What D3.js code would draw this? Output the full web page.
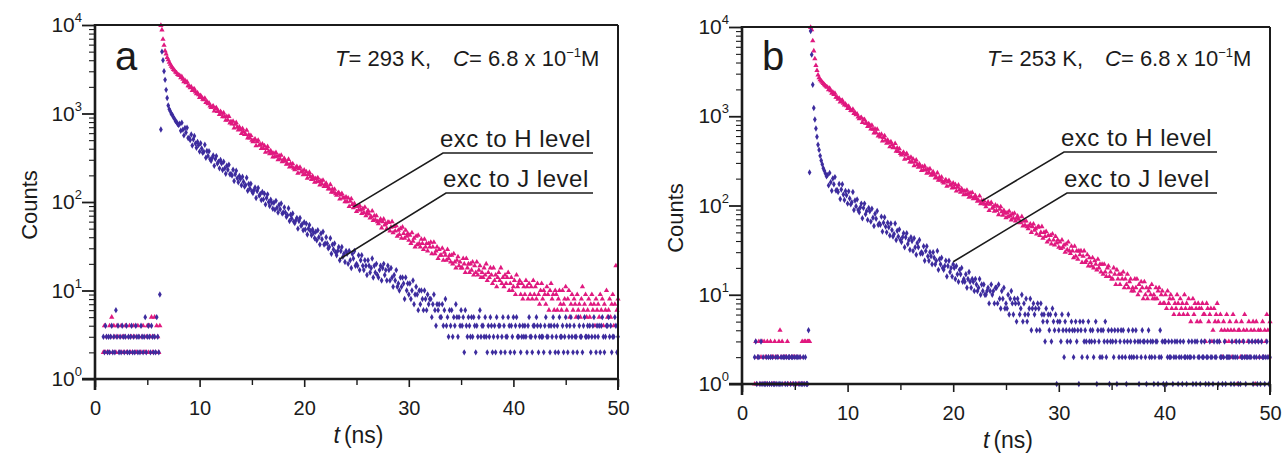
<!DOCTYPE html>
<html>
<head>
<meta charset="utf-8">
<script src="https://cdn.jsdelivr.net/npm/d3@7"></script>
<style>
  body { margin: 0; background: #fff; }
  svg { display: block; font-family: "Liberation Sans", Arial, sans-serif; }
</style>
</head>
<body>
<svg id="chart" width="1285" height="458"></svg>
<script>
// time bins (ns), 0.1 ns apart, shared by every decay curve
const timeNs = [
  0.8,0.9,
  1.0,1.1,1.2,1.3,1.4,1.5,1.6,1.7,1.8,1.9, 2.0,2.1,2.2,2.3,2.4,2.5,2.6,2.7,2.8,2.9,
  3.0,3.1,3.2,3.3,3.4,3.5,3.6,3.7,3.8,3.9, 4.0,4.1,4.2,4.3,4.4,4.5,4.6,4.7,4.8,4.9,
  5.0,5.1,5.2,5.3,5.4,5.5,5.6,5.7,5.8,5.9, 6.0,6.1,6.2,6.3,6.4,6.5,6.6,6.7,6.8,6.9,
  7.0,7.1,7.2,7.3,7.4,7.5,7.6,7.7,7.8,7.9, 8.0,8.1,8.2,8.3,8.4,8.5,8.6,8.7,8.8,8.9,
  9.0,9.1,9.2,9.3,9.4,9.5,9.6,9.7,9.8,9.9, 10.0,10.1,10.2,10.3,10.4,10.5,10.6,10.7,10.8,10.9,
  11.0,11.1,11.2,11.3,11.4,11.5,11.6,11.7,11.8,11.9, 12.0,12.1,12.2,12.3,12.4,12.5,12.6,12.7,12.8,12.9,
  13.0,13.1,13.2,13.3,13.4,13.5,13.6,13.7,13.8,13.9, 14.0,14.1,14.2,14.3,14.4,14.5,14.6,14.7,14.8,14.9,
  15.0,15.1,15.2,15.3,15.4,15.5,15.6,15.7,15.8,15.9, 16.0,16.1,16.2,16.3,16.4,16.5,16.6,16.7,16.8,16.9,
  17.0,17.1,17.2,17.3,17.4,17.5,17.6,17.7,17.8,17.9, 18.0,18.1,18.2,18.3,18.4,18.5,18.6,18.7,18.8,18.9,
  19.0,19.1,19.2,19.3,19.4,19.5,19.6,19.7,19.8,19.9, 20.0,20.1,20.2,20.3,20.4,20.5,20.6,20.7,20.8,20.9,
  21.0,21.1,21.2,21.3,21.4,21.5,21.6,21.7,21.8,21.9, 22.0,22.1,22.2,22.3,22.4,22.5,22.6,22.7,22.8,22.9,
  23.0,23.1,23.2,23.3,23.4,23.5,23.6,23.7,23.8,23.9, 24.0,24.1,24.2,24.3,24.4,24.5,24.6,24.7,24.8,24.9,
  25.0,25.1,25.2,25.3,25.4,25.5,25.6,25.7,25.8,25.9, 26.0,26.1,26.2,26.3,26.4,26.5,26.6,26.7,26.8,26.9,
  27.0,27.1,27.2,27.3,27.4,27.5,27.6,27.7,27.8,27.9, 28.0,28.1,28.2,28.3,28.4,28.5,28.6,28.7,28.8,28.9,
  29.0,29.1,29.2,29.3,29.4,29.5,29.6,29.7,29.8,29.9, 30.0,30.1,30.2,30.3,30.4,30.5,30.6,30.7,30.8,30.9,
  31.0,31.1,31.2,31.3,31.4,31.5,31.6,31.7,31.8,31.9, 32.0,32.1,32.2,32.3,32.4,32.5,32.6,32.7,32.8,32.9,
  33.0,33.1,33.2,33.3,33.4,33.5,33.6,33.7,33.8,33.9, 34.0,34.1,34.2,34.3,34.4,34.5,34.6,34.7,34.8,34.9,
  35.0,35.1,35.2,35.3,35.4,35.5,35.6,35.7,35.8,35.9, 36.0,36.1,36.2,36.3,36.4,36.5,36.6,36.7,36.8,36.9,
  37.0,37.1,37.2,37.3,37.4,37.5,37.6,37.7,37.8,37.9, 38.0,38.1,38.2,38.3,38.4,38.5,38.6,38.7,38.8,38.9,
  39.0,39.1,39.2,39.3,39.4,39.5,39.6,39.7,39.8,39.9, 40.0,40.1,40.2,40.3,40.4,40.5,40.6,40.7,40.8,40.9,
  41.0,41.1,41.2,41.3,41.4,41.5,41.6,41.7,41.8,41.9, 42.0,42.1,42.2,42.3,42.4,42.5,42.6,42.7,42.8,42.9,
  43.0,43.1,43.2,43.3,43.4,43.5,43.6,43.7,43.8,43.9, 44.0,44.1,44.2,44.3,44.4,44.5,44.6,44.7,44.8,44.9,
  45.0,45.1,45.2,45.3,45.4,45.5,45.6,45.7,45.8,45.9, 46.0,46.1,46.2,46.3,46.4,46.5,46.6,46.7,46.8,46.9,
  47.0,47.1,47.2,47.3,47.4,47.5,47.6,47.7,47.8,47.9, 48.0,48.1,48.2,48.3,48.4,48.5,48.6,48.7,48.8,48.9,
  49.0,49.1,49.2,49.3,49.4,49.5,49.6,49.7,49.8,49.9, 50.0
];

// panel a, T = 293 K  (background 0.8-6.2, rise 6.3-8.0, decay 8.1-50.0)
const hCountsA = [
  2,4,2,3,2,2,4,3,5,2, 4,3,2,4,3,2,2,4,3,2, 3,4,2,2,3,4,2,3,2,4, 3,2,2,4,3,2,2,3,4,2, 2,3,4,2,4,3,5,2,3,5, 2,4,3,2,4,
  9900,8800,6900,5900,5100,4700,4300,4050,3800,3600,3420,3300,3150,3080,2950,2880,2760,2720,
  2690,2530,2610,2440,2290,2370,2220,2280,2060,2050, 1960,2000,1815,1875,1890,1755,1670,1710,1630,1520,
  1600,1525,1445,1435,1490,1330,1365,1290,1315,1220, 1170,1196,1213,1068,1140,1160,1055,1057,977,1050,
  1010,922,1016,921,839,926,846,927,783,812, 763,817,687,755,789,701,651,704,661,594,
  677,626,578,583,646,530,574,528,564,498, 479,500,515,432,480,498,437,445,402,452,
  403,432,365,402,422,375,350,380,358,323, 355,325,361,328,300,333,306,337,286,298,
  310,289,267,271,303,249,272,252,270,241, 232,243,252,212,237,247,218,223,203,229,
  205,220,186,205,216,193,180,196,185,167, 184,169,188,171,156,174,160,176,150,157,
  163,150,140,141,157,129,140,130,139,124, 119,125,128,108,120,125,111,112,101,114,
  101,111,89,102,109,94,86,96,89,78, 89,81,91,82,74,84,76,87,70,75,
  80,73,66,68,79,62,70,63,70,60, 57,61,64,51,60,64,55,57,50,59,
  59,47,52,60,45,53,47,54,41,48, 43,50,39,52,44,39,48,41,44,37,
  42,34,45,36,39,31,41,33,42,34, 31,38,34,29,38,31,34,28,34,31,
  35,26,31,35,26,28,31,23,29,25, 25,30,22,27,25,22,29,23,25,21,
  25,20,26,21,18,22,24,19,21,18, 18,23,20,16,23,18,20,16,20,17,
  21,15,19,16,21,15,17,19,14,16, 14,18,15,20,13,16,14,18,15,12,
  18,13,15,11,14,16,13,18,12,14, 11,15,12,14,16,10,12,14,10,11,
  13,9,15,11,12,13,9,12,8,11, 9,13,11,8,12,9,11,8,13,9,
  11,8,12,9,7,10,12,8,10,9, 7,11,9,6,10,12,8,9,6,10,
  9,6,8,10,7,6,10,7,8,11, 6,8,10,5,7,9,6,8,7,5,
  9,6,7,5,8,11,6,7,9,5, 6,8,5,7,9,6,7,4,8,6,
  7,5,9,6,8,4,7,6,10,5, 6,8,5,7,9,4,7,19,6,8
];
const jCountsA = [
  3,2,4,3,2,3,2,3,4,2, 3,2,6,3,4,2,3,2,4,3, 2,3,4,2,3,2,3,4,2,3, 2,4,3,2,3,2,4,3,2,3, 5,2,3,4,3,2,4,3,2,3, 2,5,3,2,9,
  660,5000,4000,3000,2400,1850,1500,1230,1120,1060,990,960,905,870,820,800,760,740,
  767,639,787,657,566,687,610,690,530,528, 503,579,434,512,558,458,409,478,439,371,
  461,403,359,370,444,316,376,332,374,305, 292,315,336,256,307,330,272,285,240,298,
  273,230,285,240,209,257,231,264,206,207, 199,231,173,206,225,186,167,197,182,155,
  193,169,150,156,188,134,160,142,161,132, 126,136,146,111,133,144,118,123,105,130,
  107,124,94,111,122,100,90,106,98,84, 98,82,103,86,76,93,83,96,74,76,
  87,76,68,71,85,61,72,65,74,60, 58,62,66,50,61,66,54,56,48,59,
  49,57,43,50,55,47,42,49,45,39, 46,37,48,40,33,44,38,46,33,34,
  40,34,30,31,39,26,33,29,34,27, 25,28,31,22,28,31,24,26,21,28,
  26,20,28,22,18,26,23,28,19,20, 19,25,17,22,25,19,17,22,19,15,
  22,19,16,18,23,14,19,16,20,15, 14,17,19,13,18,20,15,17,13,19,
  17,13,18,14,11,15,13,17,11,12, 10,14,11,14,12,8,14,10,12,9,
  12,8,10,13,7,9,11,9,6,10, 7,10,8,6,10,8,6,9,7,8,
  8,5,7,9,6,4,7,6,7,5, 5,7,4,6,8,4,5,3,6,4,
  6,3,5,4,7,5,3,5,4,6, 4,5,2,6,4,3,5,4,3,5,
  3,5,4,2,4,3,5,6,3,4, 4,3,5,3,2,4,3,5,4,2,
  3,4,2,5,3,4,4,2,3,5, 4,2,3,3,5,4,2,4,3,5,
  2,4,5,3,3,4,2,3,4,3, 4,3,2,4,5,3,3,2,4,4,
  3,5,4,2,3,4,3,3,2,4, 5,3,3,4,2,4,3,5,4,2,
  3,4,2,5,3,3,4,2,3,5, 4,2,3,4,5,3,2,4,3,3,
  2,5,4,3,3,2,4,5,3,3, 4,3,4,2,3,4,5,3,2,4,
  3,4,2,4,5,3,2,3,4,4, 5,3,4,2,3,3,5,4,2,3
];

// panel b, T = 253 K
const hCountsB = [
  null,null,null,null,1,3,1,2,3,1, 2,3,1,3,2,1,3,2,1,3, 2,1,2,3,1,2,2,3,4,2, 3,2,1,2,2,3,1,2,1,2, 1,2,2,1,2,1,1,2,1,3, 1,3,3,1,3,
  3,3,9900,9300,7000,5400,4400,3700,3250,2900,2700,2560,2480,2400,2330,2260,2200,2140,
  2111,1988,2057,1927,1810,1871,1756,1809,1630,1630, 1556,1592,1444,1493,1509,1403,1335,1369,1308,1223,
  1289,1224,1161,1152,1200,1071,1099,1040,1060,980, 938,956,968,850,906,920,834,834,769,824,
  790,720,793,717,651,718,654,715,602,623, 586,628,528,579,606,538,499,540,507,455,
  519,480,443,447,495,406,440,404,432,382, 367,383,394,331,368,381,336,342,308,347,
  308,332,279,308,323,288,269,291,275,247, 272,250,276,251,230,255,234,257,219,228,
  238,221,204,208,232,192,208,193,208,185, 179,187,194,164,183,191,169,173,157,178,
  159,172,145,160,169,150,141,154,145,132, 145,133,148,135,124,138,126,140,119,124,
  129,120,112,114,128,105,114,107,114,103, 97,104,109,88,103,108,93,97,86,101,
  88,98,79,91,97,85,78,88,82,73, 83,75,86,77,69,80,72,82,67,72,
  76,70,64,65,75,59,67,60,67,58, 55,59,62,50,58,62,53,55,48,57,
  58,46,50,58,43,50,45,51,39,46, 41,46,37,48,41,36,45,38,41,34,
  39,33,41,34,36,30,37,32,39,31, 29,35,31,26,35,27,31,25,31,28,
  31,23,27,31,23,24,28,21,26,23, 21,26,20,24,22,19,25,20,22,18,
  22,17,22,18,16,20,21,16,18,15, 15,20,17,13,19,15,17,13,17,15,
  18,12,15,13,17,12,14,15,11,12, 11,15,12,15,10,13,11,14,12,9,
  14,10,12,9,11,12,10,13,9,10, 9,12,9,11,12,8,10,11,8,8,
  10,7,11,8,9,10,7,9,6,8, 7,10,8,6,9,7,8,6,10,7,
  8,6,9,7,5,7,9,6,8,7, 5,8,7,5,7,8,6,6,3,8,
  7,5,6,7,3,4,7,5,6,8, 5,3,6,4,2,5,4,3,6,4,
  3,5,4,2,6,4,3,5,1,4, 4,2,5,3,4,6,2,4,3,5,
  2,4,3,5,4,1,5,3,4,2, 4,3,5,2,4,3,6,4,2,5
];
const jCountsB = [
  null,null,null,null,2,3,1,2,2,1, 3,1,2,1,1,2,1,2,1,2, 1,2,1,1,2,1,2,1,1,2, 1,2,2,1,2,1,2,2,1,2, 2,1,2,1,2,2,1,2,1,1, 2,1,2,1,1,
  4,235,9000,4900,2250,1240,920,730,590,480,420,360,320,290,262,245,228,212,
  219,168,232,182,146,201,173,208,147,149, 142,174,118,151,173,133,115,145,130,105,
  144,120,103,109,142,89,114,98,117,89, 84,95,105,72,94,105,80,87,69,94,
  86,66,92,73,59,81,71,87,61,63, 61,75,51,64,74,58,50,64,57,46,
  63,53,45,48,63,41,52,45,54,41, 39,44,49,34,44,49,37,41,32,44,
  40,31,43,34,28,38,34,41,29,30, 29,35,24,31,35,27,24,30,27,22,
  30,26,22,24,31,19,25,22,26,20, 19,21,24,16,21,24,18,20,16,22,
  20,15,21,17,14,19,17,20,14,15, 14,17,12,15,18,14,12,15,14,11,
  15,13,11,12,15,10,13,11,13,10, 10,11,12,8,11,13,10,11,8,12,
  12,8,13,9,7,11,9,12,7,8, 7,10,6,9,11,8,6,9,8,5,
  9,8,6,7,10,5,8,6,9,5, 6,7,9,4,7,8,6,7,4,8,
  7,4,8,6,5,6,3,7,5,6, 4,6,3,7,5,4,6,1,5,4,
  5,3,6,4,2,5,4,3,6,4, 3,5,4,2,4,5,3,4,1,5,
  4,2,5,3,4,3,2,5,3,4, 3,4,2,3,5,1,4,3,2,4,
  2,4,3,5,2,3,4,1,3,4, 3,2,4,3,1,4,2,3,4,2,
  4,3,2,1,3,4,2,3,2,4, 2,3,4,2,3,1,3,2,4,3,
  3,2,1,3,4,2,3,2,3,1, 2,3,3,1,2,4,2,3,1,3,
  3,1,2,3,2,2,3,1,2,3, 2,3,1,2,3,2,1,3,2,2,
  1,2,3,2,2,3,1,2,3,1, 3,2,2,1,3,2,2,3,1,2,
  2,1,3,2,2,1,3,2,2,3, 1,3,2,2,1,2,3,1,2,2,
  2,2,1,3,2,1,2,3,2,1, 3,1,2,2,3,2,1,2,2,3,
  2,2,3,1,2,3,2,1,3,2, 1,3,2,2,1,2,3,2,1,2
];

const xTicks = [0, 10, 20, 30, 40, 50];
const xMinorTicks = [5, 15, 25, 35, 45];
const yDecades = [0, 1, 2, 3, 4];
const seriesLabels = ["exc to H level", "exc to J level"];
const panelLetters = ["a", "b"];
const tempsK = [293, 253];
// where each label's leader line touches its curve: [t, counts]
const leaderTargetsA = [[24.7, 88], [23.4, 22.7]];
const leaderTargetsB = [[22.7, 112], [20.0, 23.4]];

const hColor = "#e0197f", jColor = "#3d2c9e", ink = "#1b1b1b";

const svg = d3.select("#chart");
svg.append("rect").attr("width", 1285).attr("height", 458).attr("fill", "#fff");

const panels = [
  { letter: panelLetters[0], temp: tempsK[0], h: hCountsA, j: jCountsA, targets: leaderTargetsA,
    x0: 95, x1: 618, y0: 25, y1: 379, countsX: 37, countsY: 205, noteX: 335,
    tagX: [440, 443], tagY: [147, 187], tagEnd: 593 },
  { letter: panelLetters[1], temp: tempsK[1], h: hCountsB, j: jCountsB, targets: leaderTargetsB,
    x0: 742, x1: 1270, y0: 27, y1: 384, countsX: 683, countsY: 218, noteX: 987,
    tagX: [1061, 1064], tagY: [146, 187], tagEnd: 1217 }
];

panels.forEach(p => {
  const g = svg.append("g");
  const x = d3.scaleLinear().domain([0, 50]).range([p.x0, p.x1]);
  const y = d3.scaleLog().domain([1, 1e4]).range([p.y1, p.y0]);

  const points = arr => timeNs.map((t, i) => ({ t, c: arr[i] })).filter(d => d.c > 0);

  g.append("g").selectAll("path")
    .data(points(p.h))
    .join("path")
      .attr("transform", d => `translate(${x(d.t)},${y(d.c)})`)
      .attr("d", d3.symbol(d3.symbolTriangle, 12))
      .attr("fill", hColor);

  g.append("g").selectAll("path")
    .data(points(p.j))
    .join("path")
      .attr("transform", d => `translate(${x(d.t)},${y(d.c)})`)
      .attr("d", d3.symbol(d3.symbolDiamond, 12))
      .attr("fill", jColor);

  // x axis
  g.append("g")
    .attr("transform", `translate(0,${p.y1})`)
    .call(d3.axisBottom(x).tickValues(xTicks).tickSize(8).tickPadding(14).tickFormat(d3.format("d")))
    .call(a => a.select(".domain").remove())
    .call(a => a.selectAll("line").attr("stroke", ink).attr("stroke-width", 1.6))
    .call(a => a.selectAll("text").attr("fill", ink).attr("font-size", 20)
      .attr("font-family", "Liberation Sans, Arial, sans-serif"));
  g.append("g")
    .attr("transform", `translate(0,${p.y1})`)
    .call(d3.axisBottom(x).tickValues(xMinorTicks).tickSize(6).tickFormat(""))
    .call(a => a.select(".domain").remove())
    .call(a => a.selectAll("line").attr("stroke", ink).attr("stroke-width", 1.4));

  // y axis
  const minor = [];
  yDecades.slice(0, -1).forEach(e => { for (let k = 2; k < 10; k++) minor.push(k * Math.pow(10, e)); });
  g.append("g")
    .attr("transform", `translate(${p.x0},0)`)
    .call(d3.axisLeft(y).tickValues(yDecades.map(e => Math.pow(10, e))).tickSize(13).tickFormat(""))
    .call(a => a.select(".domain").remove())
    .call(a => a.selectAll("line").attr("stroke", ink).attr("stroke-width", 1.8));
  g.append("g")
    .attr("transform", `translate(${p.x0},0)`)
    .call(d3.axisLeft(y).tickValues(minor).tickSize(6).tickFormat(""))
    .call(a => a.select(".domain").remove())
    .call(a => a.selectAll("line").attr("stroke", ink).attr("stroke-width", 1.1));

  yDecades.forEach(e => {
    const t = g.append("text")
      .attr("x", p.x0 - 13).attr("y", y(Math.pow(10, e)) + 7)
      .attr("text-anchor", "end").attr("fill", ink).attr("font-size", 21);
    t.append("tspan").text("10");
    t.append("tspan").attr("dy", -10).attr("font-size", 13).text(e);
  });

  // frame
  const frame = g.append("g").attr("stroke", ink).attr("fill", "none");
  frame.append("line").attr("x1", p.x0).attr("x2", p.x0).attr("y1", p.y0 - 1).attr("y2", p.y1 + 11).attr("stroke-width", 2.6);
  frame.append("line").attr("x1", p.x0 - 13).attr("x2", p.x1).attr("y1", p.y1).attr("y2", p.y1).attr("stroke-width", 2.6);
  frame.append("line").attr("x1", p.x0).attr("x2", p.x1).attr("y1", p.y0).attr("y2", p.y0).attr("stroke-width", 1.8);
  frame.append("line").attr("x1", p.x1).attr("x2", p.x1).attr("y1", p.y0).attr("y2", p.y1 + 11).attr("stroke-width", 2);

  // axis titles
  g.append("text")
    .attr("transform", `translate(${p.countsX},${p.countsY}) rotate(-90)`)
    .attr("text-anchor", "middle").attr("fill", ink).attr("font-size", 22)
    .text("Counts");
  const xt = g.append("text")
    .attr("x", (p.x0 + p.x1) / 2 + 2).attr("y", p.y1 + 64)
    .attr("text-anchor", "middle").attr("fill", ink).attr("font-size", 23);
  xt.append("tspan").attr("font-style", "italic").text("t");
  xt.append("tspan").attr("dx", 4).text("(ns)");

  // panel letter
  g.append("text").attr("x", p.x0 + 20).attr("y", 70)
    .attr("fill", ink).attr("font-size", 40).text(p.letter);

  // conditions
  const note = g.append("text").attr("x", p.noteX).attr("y", 66)
    .attr("fill", ink).attr("font-size", 22);
  note.append("tspan").attr("font-style", "italic").text("T");
  note.append("tspan").text(`= ${p.temp} K,`);
  note.append("tspan").attr("dx", 22).attr("font-style", "italic").text("C");
  note.append("tspan").text("= 6.8 x 10");
  note.append("tspan").attr("dy", -9).attr("font-size", 13).text("\u22121");
  note.append("tspan").attr("dy", 9).text("M");

  // series labels with leader lines
  seriesLabels.forEach((lab, i) => {
    g.append("text").attr("x", p.tagX[i]).attr("y", p.tagY[i])
      .attr("fill", ink).attr("font-size", 24).attr("letter-spacing", 0.5)
      .text(lab);
    const uy = p.tagY[i] + 6;
    const [tt, cc] = p.targets[i];
    g.append("path")
      .attr("d", d3.line()([[p.tagEnd, uy], [p.tagX[i] + 3, uy], [x(tt), y(cc)]]))
      .attr("fill", "none").attr("stroke", ink).attr("stroke-width", 1.6);
  });
});
</script>
</body>
</html>
